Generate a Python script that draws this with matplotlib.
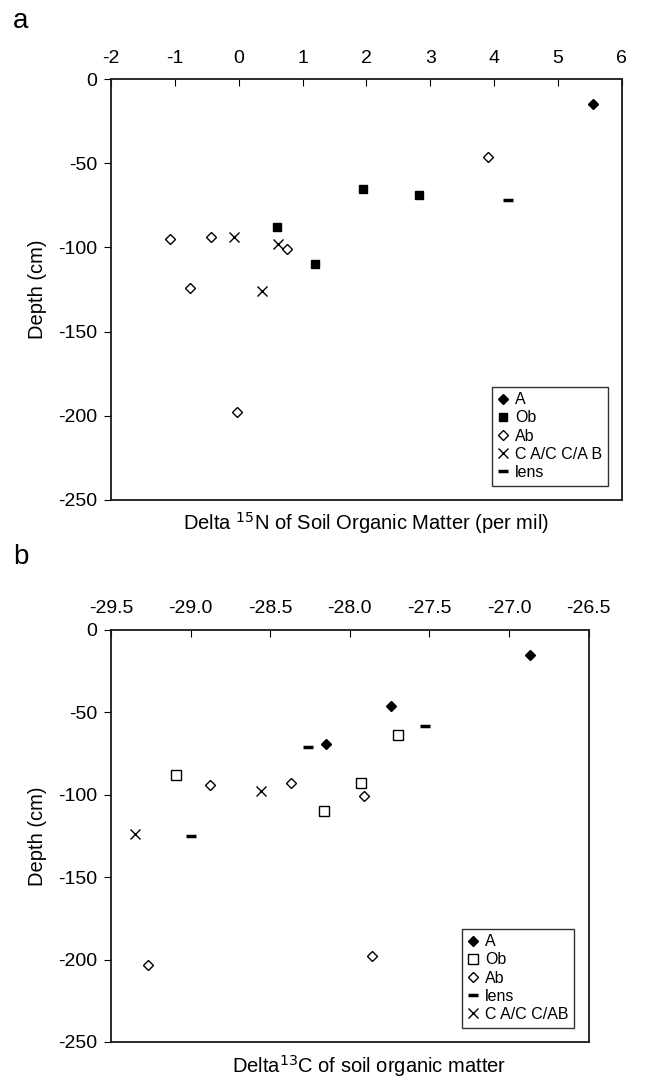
import matplotlib
matplotlib.use("Agg")
import matplotlib.pyplot as plt

plt.rcParams["font.family"] = ["Liberation Sans", "DejaVu Sans"]
plt.rcParams["font.size"] = 14
plt.rcParams["axes.unicode_minus"] = False

# --- panel a: delta 15N vs depth ---
a_A_x = [5.55]
a_A_y = [-15]
a_Ob_x = [1.95, 2.82, 0.60, 1.20]
a_Ob_y = [-65, -69, -88, -110]
a_Ab_x = [3.91, -1.07, -0.43, 0.75, -0.77, -0.02]
a_Ab_y = [-46, -95, -94, -101, -124, -198]
a_C_x = [-0.08, 0.62, 0.37]
a_C_y = [-94, -98, -126]
a_lens_x = [4.22]
a_lens_y = [-72]

# --- panel b: delta 13C vs depth ---
b_A_x = [-26.87, -27.74, -28.15]
b_A_y = [-15, -46, -69]
b_Ob_x = [-27.70, -29.09, -27.93, -28.16]
b_Ob_y = [-64, -88, -93, -110]
b_Ab_x = [-28.88, -28.37, -27.91, -29.27, -27.86]
b_Ab_y = [-94, -93, -101, -203, -198]
b_lens_x = [-27.53, -28.26, -29.00]
b_lens_y = [-58, -71, -125]
b_C_x = [-28.56, -29.35]
b_C_y = [-98, -124]

fig = plt.figure(figsize=(6.67, 10.82), dpi=100)
ax1 = fig.add_axes([0.1664, 0.5379, 0.766, 0.389])
ax2 = fig.add_axes([0.1664, 0.0370, 0.716, 0.3808])


def style_axes(ax):
    for s in ax.spines.values():
        s.set_linewidth(1.3)
        s.set_color("#1a1a1a")
    ax.xaxis.tick_top()
    ax.tick_params(axis="x", direction="in", length=5, pad=9, top=True, bottom=False)
    ax.tick_params(axis="y", direction="out", length=5, pad=5)
    ax.set_ylim(-250, 0)
    ax.set_yticks([0, -50, -100, -150, -200, -250])
    ax.set_ylabel("Depth (cm)", labelpad=8, fontsize=14.5)


leg_kw = dict(loc="lower right", frameon=True, fancybox=False, edgecolor="black",
              fontsize=11.5, handlelength=0.7, handletextpad=0.4, labelspacing=0.2,
              borderaxespad=0.9, borderpad=0.35)

ax1.plot(a_A_x, a_A_y, "D", color="black", ms=5, label="A", ls="none")
ax1.plot(a_Ob_x, a_Ob_y, "s", color="black", ms=5.5, label="Ob", ls="none")
ax1.plot(a_Ab_x, a_Ab_y, "D", mfc="white", mec="black", mew=1, ms=5, label="Ab", ls="none")
ax1.plot(a_C_x, a_C_y, "x", color="black", ms=6.5, mew=1, label="C A/C C/A B", ls="none")
ax1.plot(a_lens_x, a_lens_y, "_", color="black", ms=7, mew=2.5, label="lens", ls="none")
style_axes(ax1)
ax1.set_xlim(-2, 6)
ax1.set_xticks(range(-2, 7))
ax1.set_xlabel("Delta $^{15}$N of Soil Organic Matter (per mil)", fontsize=14.5)
ax1.xaxis.set_label_coords(0.5, -0.025, transform=ax1.transAxes)
ax1.xaxis.label.set_va("top")
leg1 = ax1.legend(**leg_kw)
leg1.get_frame().set_linewidth(1.0)

ax2.plot(b_A_x, b_A_y, "D", color="black", ms=5, label="A", ls="none")
ax2.plot(b_Ob_x, b_Ob_y, "s", mfc="white", mec="black", mew=1, ms=6.5, label="Ob", ls="none")
ax2.plot(b_Ab_x, b_Ab_y, "D", mfc="white", mec="black", mew=1, ms=5, label="Ab", ls="none")
ax2.plot(b_lens_x, b_lens_y, "_", color="black", ms=7, mew=2.5, label="lens", ls="none")
ax2.plot(b_C_x, b_C_y, "x", color="black", ms=6.5, mew=1, label="C A/C C/AB", ls="none")
style_axes(ax2)
ax2.set_xlim(-29.5, -26.5)
ax2.set_xticks([-29.5, -29.0, -28.5, -28.0, -27.5, -27.0, -26.5])
ax2.set_xticklabels(["-29.5", "-29.0", "-28.5", "-28.0", "-27.5", "-27.0", "-26.5"])
ax2.set_xlabel("Delta$^{13}$C of soil organic matter", fontsize=14.5)
ax2.xaxis.set_label_coords(0.54, -0.028, transform=ax2.transAxes)
ax2.xaxis.label.set_va("top")
leg2 = ax2.legend(**leg_kw)
leg2.get_frame().set_linewidth(1.0)

fig.text(0.02, 0.981, "a", fontsize=20, va="center")
fig.text(0.02, 0.485, "b", fontsize=20, va="center")

fig.savefig("out.png", dpi=100)
